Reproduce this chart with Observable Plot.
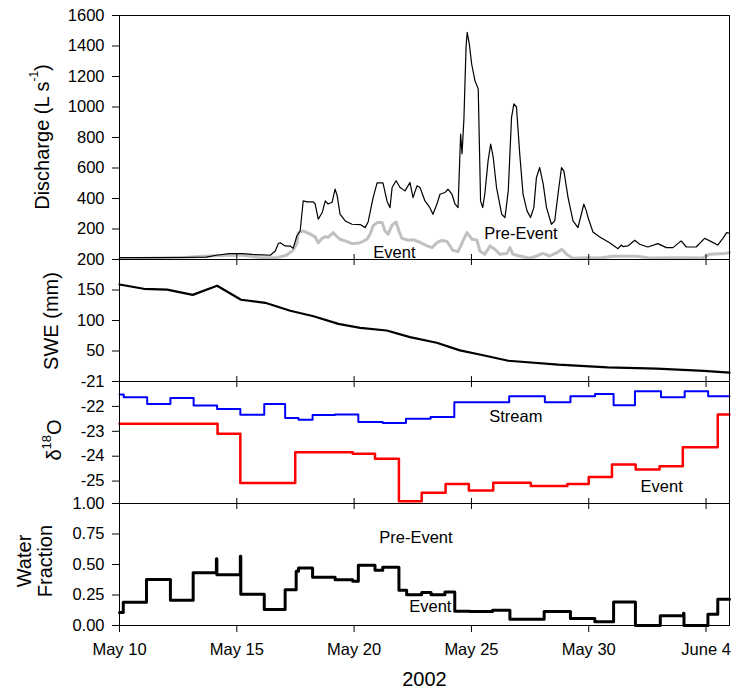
<!DOCTYPE html>
<html><head><meta charset="utf-8">
<script src="https://cdn.jsdelivr.net/npm/d3@7"></script>
<script src="https://cdn.jsdelivr.net/npm/@observablehq/plot@0.6"></script>
<style>
html,body{margin:0;padding:0;background:#fff;}
#chart{position:relative;width:732px;height:696px;}
#chart svg{position:absolute;left:0;top:0;}
</style></head><body><div id="chart"></div>
<script>
// ---------- DATA (days since 2002-05-10 00:00 UTC) ----------
const dischargeDay = [0,1.32,2.55,3.70,4.13,4.68,5.23,5.66,6.09,6.43,6.64,6.77,6.85,7.06,7.28,7.40,7.56,7.70,7.83,8.00,8.26,8.34,8.47,8.64,8.77,8.89,9.06,9.19,9.28,9.40,9.62,9.91,10.26,10.47,10.60,10.81,10.98,11.23,11.40,11.53,11.62,11.79,11.96,12.17,12.38,12.51,12.68,12.81,13.02,13.23,13.36,13.53,13.66,13.87,14.00,14.17,14.30,14.43,14.54,14.60,14.68,14.77,14.82,14.91,15.01,15.15,15.29,15.39,15.48,15.57,15.71,15.82,15.93,16.07,16.29,16.43,16.57,16.71,16.81,16.92,17.06,17.20,17.37,17.52,17.66,17.77,17.91,18.06,18.20,18.41,18.55,18.69,18.84,18.94,19.12,19.33,19.54,19.69,19.79,19.90,19.97,20.18,20.47,20.89,21.25,21.39,21.46,21.67,21.96,22.17,22.52,22.95,23.31,23.59,23.94,24.16,24.58,24.94,25.22,25.50,25.74,25.88,26.00];
const dischargeTotal = [12,12,13,16,28,38,38,33,30,28,56,105,110,89,88,73,154,187,384,378,378,364,264,308,384,364,375,461,417,297,253,231,229,209,248,406,503,503,384,340,472,516,472,450,505,406,483,472,384,340,297,364,428,439,461,428,364,340,822,693,921,1391,1490,1414,1282,1173,1118,384,340,428,647,757,669,472,297,275,450,932,1020,1000,691,428,319,275,340,537,603,494,340,231,253,428,603,581,406,253,209,300,363,319,275,180,148,110,71,95,85,89,126,100,82,104,78,78,122,82,82,139,117,95,143,176,172];

const eventFlowDay = [0,1.74,2.89,4.00,5.15,6.00,6.72,7.11,7.40,7.57,7.62,7.83,8.13,8.34,8.47,8.64,8.77,8.89,9.11,9.28,9.40,9.62,9.91,10.26,10.55,10.68,10.81,10.98,11.19,11.32,11.45,11.62,11.79,11.91,12.04,12.30,12.51,12.81,13.11,13.32,13.53,13.74,13.96,14.21,14.43,14.64,14.81,15.02,15.23,15.36,15.57,15.79,16.00,16.21,16.51,16.64,16.77,17.06,17.49,17.79,18.04,18.34,18.64,18.85,19.06,19.32,19.91,20.47,21.02,22.04,22.60,23.87,24.85,25.15,25.79,26.00];
const eventFlow = [5,10,14,25,30,12,12,28,60,110,176,187,166,148,110,139,150,145,176,148,133,122,104,110,133,166,220,242,242,187,166,227,246,187,139,126,130,112,89,78,110,125,118,60,52,122,176,133,128,56,34,89,67,34,40,78,34,23,8,23,40,23,45,67,34,8,12,10,21,21,10,12,10,34,40,45];

const sweDay = [0,1.03,2.03,3.12,4.16,5.18,6.21,7.28,8.27,9.33,10.26,11.39,12.38,13.52,14.51,15.50,16.57,18.70,20.80,22.90,24.90,26.00];
const sweValue = [159,152,150.5,142,157,134,129,116,107,94.5,88,83.6,72.7,63.5,51,43,34,27.7,23.3,21,17.3,14.6];

const streamDay = [0,0.18,1.18,2.17,3.16,4.16,5.15,6.17,7.06,7.63,8.23,9.19,10.18,11.22,12.21,13.26,14.27,16.61,18.13,19.22,20.27,21.06,21.97,23.08,24.09,25.09,26.00];
const streamD18O = [-21.52,-21.63,-21.90,-21.66,-21.96,-22.10,-22.34,-21.90,-22.47,-22.54,-22.35,-22.33,-22.63,-22.67,-22.50,-22.43,-21.83,-21.59,-21.83,-21.59,-21.50,-21.95,-21.39,-21.63,-21.39,-21.59,-21.59];

const eventIsoDay = [0,4.18,5.15,7.49,9.94,10.89,11.91,12.88,13.90,14.89,15.93,17.53,19.09,20.00,20.99,22.00,23.02,24.01,25.50,26.00];
const eventD18O = [-22.70,-23.10,-25.08,-23.84,-23.90,-24.10,-25.81,-25.47,-25.12,-25.38,-25.07,-25.20,-25.12,-24.84,-24.33,-24.53,-24.40,-23.64,-22.33,-22.33];

const fractionDay = [0,0.16,1.15,2.17,3.14,4.13,4.15,5.15,5.17,6.17,7.06,7.53,7.63,8.23,9.19,9.94,10.18,10.89,11.22,11.91,12.24,12.88,13.28,13.87,14.29,14.94,15.90,16.64,18.10,19.22,20.26,21.06,21.99,23.05,24.04,24.06,25.08,25.50,26.00];
const eventFraction = [0.106,0.19,0.378,0.207,0.433,0.548,0.417,0.567,0.256,0.131,0.294,0.444,0.471,0.395,0.376,0.362,0.493,0.452,0.477,0.289,0.253,0.27,0.253,0.275,0.117,0.114,0.125,0.052,0.114,0.057,0.03,0.193,0.0,0.079,0.1,0.0,0.092,0.215,0.215];

const tickDays = [0,5,10,15,20,25];
const tickLabels = ["May 10","May 15","May 20","May 25","May 30","June 4"];
const dischargeTicks = [200,400,600,800,1000,1200,1400,1600];
const sweTicks = [50,100,150,200];
const isoTicks = [-21,-22,-23,-24,-25];
const fracTicks = [0,0.25,0.5,0.75,1];

// annotations (day, value, text)
const dischargeNotes = [{d:15.55,v:167,t:"Pre-Event"},{d:10.82,v:43,t:"Event"}];
const isoNotes = [{d:15.76,v:-22.42,t:"Stream"},{d:22.21,v:-25.21,t:"Event"}];
const fracNotes = [{d:11.07,v:0.716,t:"Pre-Event"},{d:12.35,v:0.158,t:"Event"}];

// ---------- helpers ----------
const base = Date.UTC(2002,4,10);
const day = d => new Date(base + d*864e5);
const zip = (ds, vs) => ds.map((d,i) => ({date: day(d), v: vs[i]}));
const tickDates = tickDays.map(day);
const fmtDate = dt => tickLabels[tickDays.indexOf(Math.round((dt - base)/864e5))];

const W = 732, H = 696, ML = 119, MR = 3;
const panels = [[15,259],[259,381],[381,503],[503,625]];
const FONT = "'Liberation Sans', Arial, Helvetica, sans-serif";

function panel(i, y, marks) {
  return Plot.plot({
    width: W, height: H,
    marginLeft: ML, marginRight: MR,
    marginTop: panels[i][0], marginBottom: H - panels[i][1],
    x: {type: "utc", domain: [day(0), day(26)]},
    y: {...y, label: null},
    style: {background: "transparent", fontFamily: FONT, fontSize: "16.5px", color: "#000"},
    marks
  });
}
const yAxis = (ticks, fmt) => Plot.axisY(ticks, {anchor: "left", tickSize: 7, tickPadding: 8, tickFormat: fmt, label: null});
const xTicks = (anchor, size) => Plot.axisX(tickDates, {anchor, tickSize: size, tickFormat: () => "", label: null});
const notes = arr => Plot.text(arr, {x: n => day(n.d), y: "v", text: "t", textAnchor: "start", fontSize: 16.5, fill: "#000"});

const p1 = panel(0, {domain: [0,1600]}, [
  Plot.line(zip(eventFlowDay, eventFlow), {x: "date", y: "v", stroke: "#c0c0c0", strokeWidth: 3}),
  Plot.line(zip(dischargeDay, dischargeTotal), {x: "date", y: "v", stroke: "#000", strokeWidth: 1.2}),
  notes(dischargeNotes),
  Plot.frame({stroke: "#000"}),
  yAxis(dischargeTicks, d => String(d)),
  xTicks("bottom", 6)
]);

const p2 = panel(1, {domain: [0,200]}, [
  Plot.line(zip(sweDay, sweValue), {x: "date", y: "v", stroke: "#000", strokeWidth: 2.2}),
  Plot.frame({stroke: "#000"}),
  yAxis(sweTicks, d => String(d)),
  xTicks("top", 6),
  xTicks("bottom", 6)
]);

const p3 = panel(2, {domain: [-25.9,-21]}, [
  Plot.line(zip(streamDay, streamD18O), {x: "date", y: "v", stroke: "#0000ff", strokeWidth: 2, curve: "step-after"}),
  Plot.line(zip(eventIsoDay, eventD18O), {x: "date", y: "v", stroke: "#ff0000", strokeWidth: 2.5, curve: "step-after"}),
  notes(isoNotes),
  Plot.frame({stroke: "#000"}),
  yAxis(isoTicks, d => String(d)),
  xTicks("top", 6),
  xTicks("bottom", 6)
]);

const p4 = panel(3, {domain: [0,1]}, [
  Plot.line(zip(fractionDay, eventFraction), {x: "date", y: "v", stroke: "#000", strokeWidth: 3, curve: "step-after"}),
  notes(fracNotes),
  Plot.frame({stroke: "#000"}),
  yAxis(fracTicks, d3.format(".2f")),
  xTicks("top", 6),
  Plot.axisX(tickDates, {anchor: "bottom", tickSize: 7, tickPadding: 11, tickFormat: fmtDate, label: null}),
  Plot.text(["2002"], {frameAnchor: "bottom", dy: 60, fontSize: 20, fill: "#000"})
]);

const chart = document.getElementById("chart");
[p1,p2,p3,p4].forEach(p => chart.appendChild(p));

// rotated axis titles
function title(svg, cx, cy, build) {
  const t = d3.select(svg).append("text")
    .attr("transform", `translate(${cx},${cy}) rotate(-90)`)
    .attr("text-anchor", "middle")
    .attr("dominant-baseline", "central")
    .attr("font-family", FONT)
    .attr("font-size", 20)
    .attr("fill", "#000");
  build(t);
}
title(p4, 42, 137, t => {
  t.append("tspan").text("Discharge (L s");
  t.append("tspan").attr("font-size", 12).attr("dy", -8).text("-1");
  t.append("tspan").attr("dy", 8).text(")");
});
title(p4, 51, 321, t => t.text("SWE (mm)"));
title(p4, 54, 440, t => {
  t.append("tspan").text("δ");
  t.append("tspan").attr("font-size", 13).attr("dy", -8).text("18");
  t.append("tspan").attr("dy", 8).text("O");
});
title(p4, 24, 561, t => t.text("Water"));
title(p4, 45, 561, t => t.text("Fraction"));
</script>
</body></html>
